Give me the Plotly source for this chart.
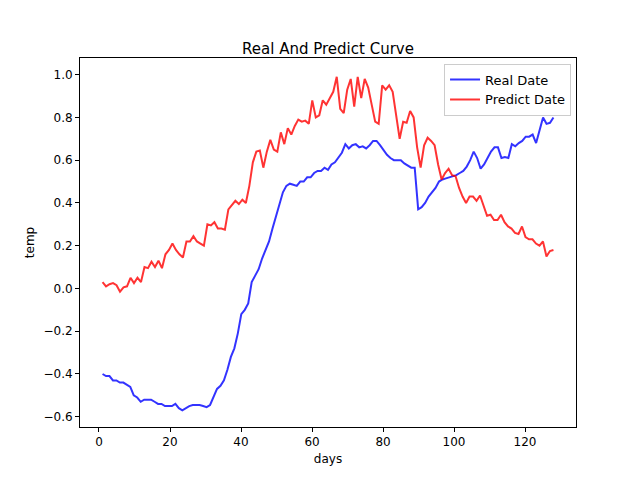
import plotly.graph_objects as go

real = [-0.40,-0.41,-0.41,-0.43,-0.43,-0.44,-0.44,-0.45,-0.46,-0.50,-0.51,-0.53,-0.52,-0.52,-0.52,-0.53,-0.54,-0.54,-0.55,-0.55,
        -0.55,-0.54,-0.56,-0.57,-0.56,-0.55,-0.545,-0.545,-0.545,-0.55,-0.555,-0.545,-0.51,-0.47,-0.455,-0.43,-0.38,-0.32,-0.28,-0.21,
        -0.12,-0.10,-0.07,0.03,0.06,0.09,0.14,0.18,0.22,0.28,0.34,0.40,0.45,0.48,0.49,0.485,0.48,0.50,0.50,0.52,
        0.52,0.54,0.55,0.55,0.565,0.555,0.58,0.59,0.61,0.635,0.675,0.655,0.67,0.675,0.66,0.665,0.655,0.67,0.69,0.69,
        0.67,0.645,0.625,0.61,0.60,0.60,0.60,0.585,0.575,0.565,0.565,0.37,0.38,0.40,0.43,0.45,0.47,0.50,0.51,0.515,
        0.52,0.525,0.53,0.54,0.55,0.57,0.60,0.64,0.61,0.56,0.58,0.61,0.64,0.66,0.66,0.61,0.615,0.61,0.675,0.665,
        0.68,0.69,0.71,0.71,0.72,0.68,0.74,0.80,0.77,0.775,0.80]
pred = [0.03,0.01,0.02,0.025,0.015,-0.015,0.005,0.01,0.05,0.025,0.05,0.03,0.10,0.095,0.125,0.10,0.13,0.095,0.16,0.18,
        0.21,0.18,0.16,0.145,0.22,0.22,0.245,0.22,0.21,0.20,0.30,0.295,0.31,0.28,0.28,0.275,0.37,0.39,0.41,0.395,
        0.415,0.40,0.48,0.59,0.64,0.645,0.565,0.64,0.695,0.65,0.64,0.73,0.675,0.75,0.72,0.76,0.79,0.78,0.785,0.77,
        0.88,0.80,0.81,0.88,0.86,0.89,0.92,0.99,0.84,0.82,0.93,0.98,0.85,0.99,0.89,0.98,0.94,0.86,0.78,0.77,
        0.95,0.93,0.95,0.92,0.80,0.70,0.78,0.775,0.83,0.80,0.66,0.565,0.67,0.705,0.69,0.67,0.58,0.51,0.54,0.56,
        0.53,0.525,0.47,0.43,0.40,0.43,0.43,0.41,0.435,0.39,0.34,0.345,0.32,0.32,0.345,0.31,0.29,0.28,0.26,0.255,
        0.29,0.24,0.23,0.23,0.21,0.20,0.22,0.15,0.175,0.18]
days_real = list(range(1, len(real) + 1))
days_pred = list(range(1, len(pred) + 1))
# stretch both onto 1..128
days_real = [1 + (d - 1) * 127 / (len(real) - 1) for d in days_real]
days_pred = [1 + (d - 1) * 127 / (len(pred) - 1) for d in days_pred]

fig = go.Figure()
fig.add_trace(go.Scatter(x=days_real, y=real, mode="lines", name="Real Date",
                         line=dict(color="rgba(0,0,255,0.8)", width=2)))
fig.add_trace(go.Scatter(x=days_pred, y=pred, mode="lines", name="Predict Date",
                         line=dict(color="rgba(255,0,0,0.8)", width=2)))
ax = dict(showgrid=False, zeroline=False, showline=True, mirror=True, linecolor="black",
          ticks="outside", ticklen=4, tickcolor="black", automargin=False)
fig.update_layout(
    width=640, height=480, plot_bgcolor="white", paper_bgcolor="white",
    font=dict(family="DejaVu Sans", size=12, color="black"),
    margin=dict(l=72, r=72, t=50, b=61),
    title=dict(text="Real And Predict Curve", x=0.5, xanchor="center", y=0.905, yanchor="bottom",
               font=dict(size=15)),
    xaxis=dict(ax, title=dict(text="days", standoff=6, font=dict(size=12)), range=[-5.35, 134.35],
               tickvals=[0, 20, 40, 60, 80, 100, 120]),
    yaxis=dict(ax, title=dict(text="temp", standoff=6, font=dict(size=12)), range=[-0.648, 1.078],
               tickformat=".1f", dtick=0.2),
    legend=dict(x=0.99, y=0.985, xanchor="right", yanchor="top", bordercolor="#cccccc", borderwidth=1,
                font=dict(size=13)),
    showlegend=True,
)
fig.write_html("out.html")
